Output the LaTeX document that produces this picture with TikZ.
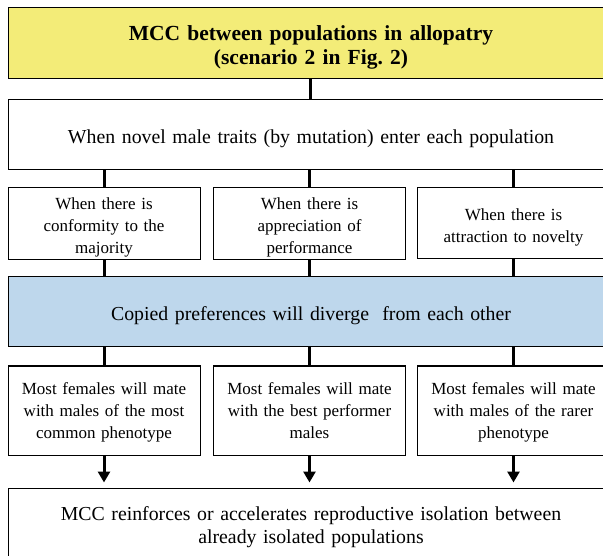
\documentclass[tikz,border=0pt]{standalone}
\usepackage{fontspec}
\setmainfont{Liberation Serif}
\usetikzlibrary{arrows.meta}
\definecolor{titleyellow}{RGB}{243,236,120}
\definecolor{divblue}{RGB}{190,215,236}
\frenchspacing
\begin{document}
\begin{tikzpicture}[x=1pt, y=-1pt,
    box/.style={draw, line width=1pt, rectangle, align=center, inner sep=2pt},
    widebox/.style={box, minimum width=606pt, text width=590pt},
    smallbox/.style={box, minimum width=192pt, text width=188pt,
        font=\fontsize{17}{22}\selectfont,
        execute at end node={\rule[-4pt]{0pt}{1pt}}},
    firstline/.style={execute at begin node={\rule{0pt}{#1}}},
    conn/.style={line width=3pt},
    arr/.style={line width=3pt, -{Triangle[width=12pt, length=11pt]}, shorten >=5pt}]
    \useasboundingbox (0,0) rectangle (603,556);
    % top rows
    \node[widebox, fill=titleyellow, minimum height=71pt, firstline=23.5pt,
        font=\bfseries\fontsize{21.5}{24}\selectfont] (title) at (311,43.5)
        {MCC between populations in allopatry\\(scenario 2 in Fig. 2)};
    \node[widebox, minimum height=70pt, firstline=21.5pt,
        font=\fontsize{19.8}{24}\selectfont] (novel) at (311,135)
        {When novel male traits (by mutation) enter each population};
    \node[smallbox, minimum height=71pt, firstline=19.5pt] (conf) at (104,223.5)
        {When there is\\conformity to the\\majority};
    \node[smallbox, minimum height=71pt, firstline=19.5pt] (perf) at (309.5,223.5)
        {When there is\\appreciation of\\performance};
    \node[smallbox, minimum height=71pt, firstline=19.5pt] (nov) at (513.5,223.5)
        {When there is\\attraction to novelty};
    \node[widebox, fill=divblue, minimum height=70pt, firstline=21.5pt,
        font=\fontsize{19.8}{24}\selectfont] (diverge) at (311,312)
        {Copied preferences will diverge\ \ from each other};
    % outcomes
    \node[smallbox, minimum height=89pt, firstline=15.6pt] (common) at (104,410.5)
        {Most females will mate\\with males of the most\\common phenotype};
    \node[smallbox, minimum height=89pt, firstline=15.6pt] (best) at (309.5,410.5)
        {Most females will mate\\with the best performer\\males};
    \node[smallbox, minimum height=89pt, firstline=15.6pt] (rare) at (513.5,410.5)
        {Most females will mate\\with males of the rarer\\phenotype};
    \node[widebox, minimum height=78pt, font=\fontsize{19.8}{23}\selectfont] (mcc) at (311,527)
        {MCC reinforces or accelerates reproductive isolation between\\already isolated populations};
    % connectors
    \draw[conn] (title.south -| 310,0) -- (novel.north -| 310,0);
    \foreach \n in {conf, perf, nov} {
        \draw[conn] (novel.south -| \n.north) -- (\n.north);
        \draw[conn] (\n.south) -- (\n.south |- diverge.north);
    }
    \foreach \n in {common, best, rare} {
        \draw[conn] (diverge.south -| \n.north) -- (\n.north);
        \draw[arr] (\n.south) -- (\n.south |- mcc.north);
    }
\end{tikzpicture}
\end{document}
